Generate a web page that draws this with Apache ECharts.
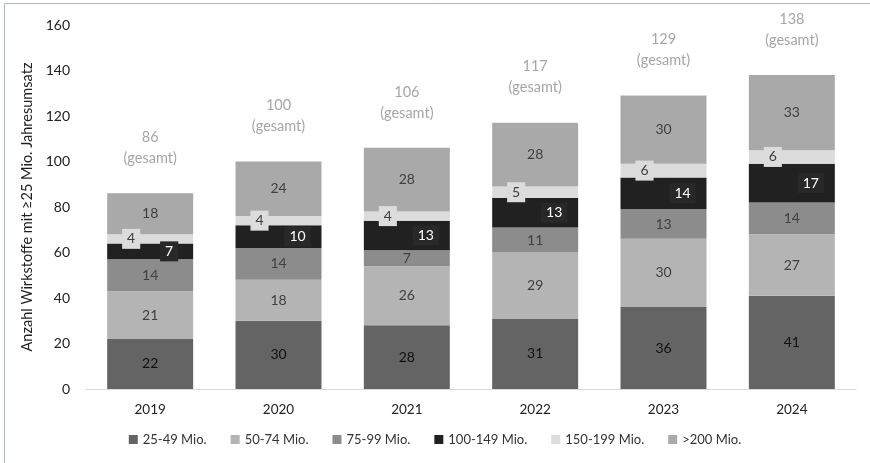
<!DOCTYPE html>
<html>
<head>
<meta charset="utf-8">
<script src="https://cdn.jsdelivr.net/npm/echarts@6/dist/echarts.min.js"></script>
<style>
  html, body { margin: 0; padding: 0; background: #fff; }
  #chart { width: 870px; height: 463px; }
</style>
</head>
<body>
<div id="chart"></div>
<script>
// Jahre (Kategorien)
const years = ['2019', '2020', '2021', '2022', '2023', '2024'];

// Anzahl Wirkstoffe je Umsatzklasse
const mio25_49 = [22, 30, 28, 31, 36, 41];
const mio50_74 = [21, 18, 26, 29, 30, 27];
const mio75_99 = [14, 14, 7, 11, 13, 14];
const mio100_149 = [7, 10, 13, 13, 14, 17];
const mio150_199 = [4, 4, 4, 5, 6, 6];
const mioOver200 = [18, 24, 28, 28, 30, 33];

const seriesNames = ['25-49 Mio.', '50-74 Mio.', '75-99 Mio.', '100-149 Mio.', '150-199 Mio.', '>200 Mio.'];

// Gesamtzahl je Jahr
const totals = years.map((_, i) =>
  mio25_49[i] + mio50_74[i] + mio75_99[i] + mio100_149[i] + mio150_199[i] + mioOver200[i]);

const FONT = 'Lato';

function segLabel(color, extra) {
  return Object.assign({
    show: true,
    position: 'inside',
    color: color,
    fontFamily: FONT,
    fontSize: 14
  }, extra || {});
}

const chart = echarts.init(document.getElementById('chart'), null, { renderer: 'canvas' });

chart.setOption({
  animation: false,
  textStyle: { fontFamily: FONT },
  graphic: [
    { type: 'line', shape: { x1: 4.5, y1: 3.5, x2: 4.5, y2: 463 }, style: { stroke: '#a9b8c4', lineWidth: 1 } },
    { type: 'line', shape: { x1: 4.5, y1: 3.5, x2: 870, y2: 3.5 }, style: { stroke: '#a9b8c4', lineWidth: 1 } }
  ],
  grid: { left: 86, right: 14, top: 25, bottom: 74 },
  legend: {
    bottom: 12,
    left: 'center',
    itemWidth: 9,
    itemHeight: 9,
    itemGap: 24,
    icon: 'rect',
    textStyle: { color: '#333', fontSize: 13, fontFamily: FONT },
    data: seriesNames
  },
  xAxis: {
    type: 'category',
    data: years,
    axisLine: { lineStyle: { color: '#d9d9d9' } },
    axisTick: { show: false },
    axisLabel: { color: '#222', fontSize: 13.5, margin: 14, fontFamily: FONT }
  },
  yAxis: {
    type: 'value',
    min: 0,
    max: 160,
    interval: 20,
    name: 'Anzahl Wirkstoffe mit ≥25 Mio. Jahresumsatz',
    nameLocation: 'middle',
    nameGap: 50,
    nameTextStyle: { color: '#222', fontSize: 14.5, fontFamily: FONT },
    axisLine: { show: false },
    axisTick: { show: false },
    splitLine: { show: false },
    axisLabel: { color: '#222', fontSize: 14, margin: 16, fontFamily: FONT }
  },
  series: [
    {
      name: seriesNames[0], type: 'bar', stack: 'a', barWidth: '67%',
      data: mio25_49, itemStyle: { color: '#646464' },
      label: segLabel('#111')
    },
    {
      name: seriesNames[1], type: 'bar', stack: 'a',
      data: mio50_74, itemStyle: { color: '#b4b4b4' },
      label: segLabel('#404040')
    },
    {
      name: seriesNames[2], type: 'bar', stack: 'a',
      data: mio75_99, itemStyle: { color: '#8c8c8c' },
      label: segLabel('#404040')
    },
    {
      name: seriesNames[3], type: 'bar', stack: 'a',
      data: mio100_149, itemStyle: { color: '#212121' },
      label: segLabel('#fff', {
        offset: [19, 0],
        backgroundColor: '#282828',
        padding: [4, 5, 2, 5]
      })
    },
    {
      name: seriesNames[4], type: 'bar', stack: 'a',
      data: mio150_199, itemStyle: { color: '#dcdcdc' },
      label: segLabel('#404040', {
        offset: [-19, 0],
        backgroundColor: '#dcdcdc',
        padding: [4, 5, 2, 5]
      })
    },
    {
      name: seriesNames[5], type: 'bar', stack: 'a',
      data: mioOver200, itemStyle: { color: '#a9a9a9' },
      label: segLabel('#404040')
    },
    {
      // Gesamtwerte als unsichtbare Punkte mit Beschriftung über den Säulen
      name: 'gesamt', type: 'line',
      data: totals,
      symbol: 'circle',
      symbolSize: 1,
      showSymbol: true,
      itemStyle: { color: 'rgba(0,0,0,0)' },
      lineStyle: { width: 0, opacity: 0 },
      silent: true,
      z: 5,
      label: {
        show: true,
        position: 'top',
        distance: 24,
        color: '#a6a6a6',
        fontSize: 14.5,
        lineHeight: 21,
        fontFamily: FONT,
        formatter: p => p.value + '\n(gesamt)'
      }
    }
  ]
});
</script>
</body>
</html>
